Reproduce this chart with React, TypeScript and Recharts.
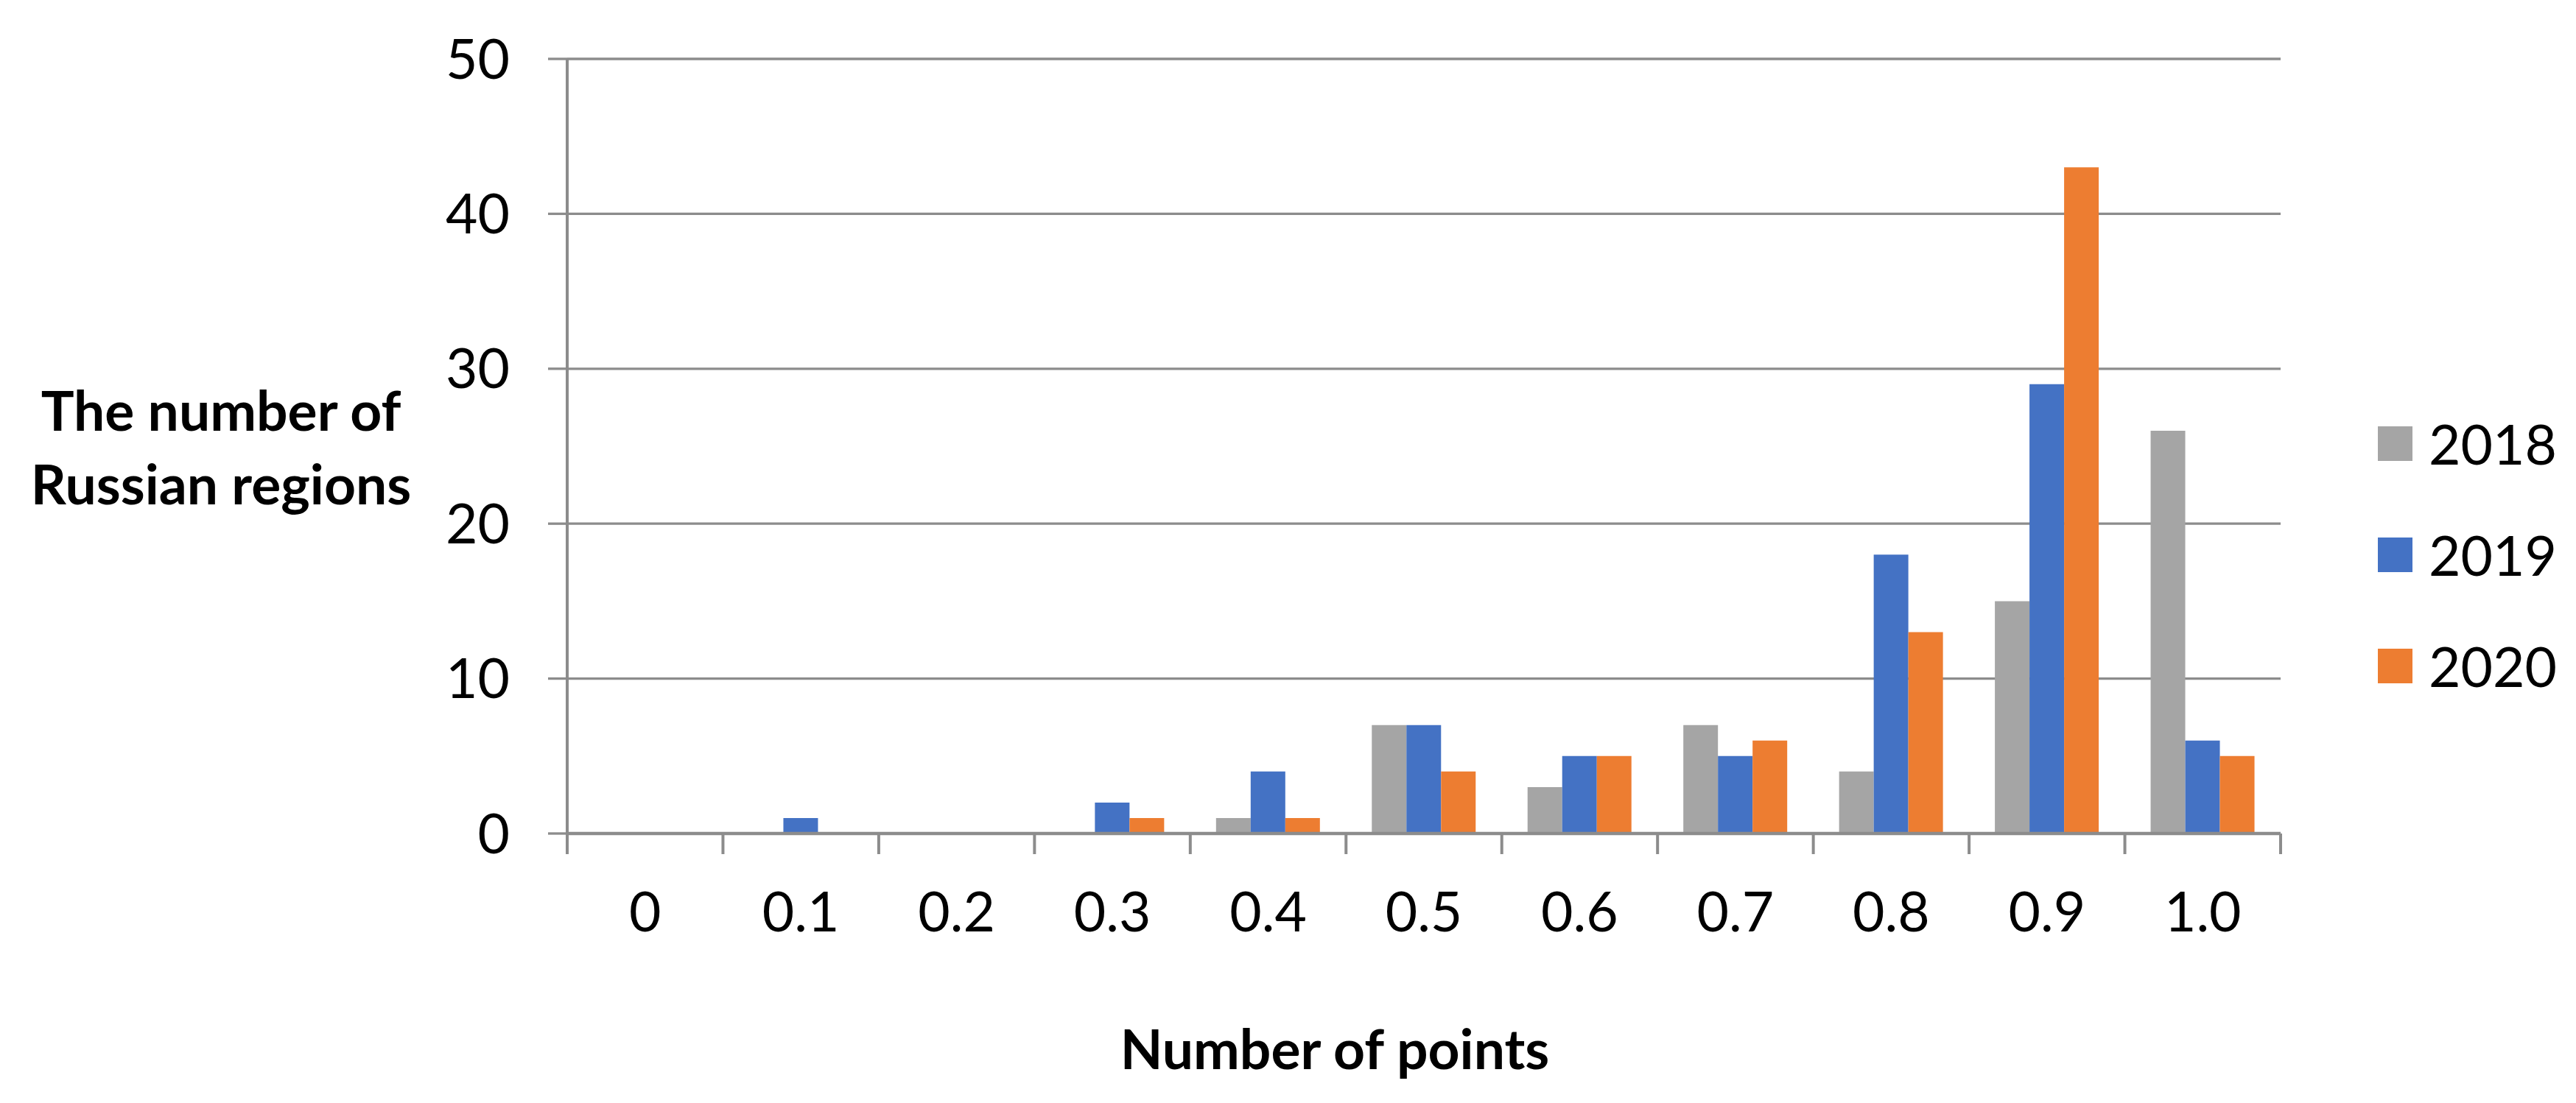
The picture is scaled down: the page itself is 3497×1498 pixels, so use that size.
import React from 'react';
import { BarChart, Bar, XAxis, YAxis, CartesianGrid, Legend } from 'recharts';

const categories = ['0', '0.1', '0.2', '0.3', '0.4', '0.5', '0.6', '0.7', '0.8', '0.9', '1.0'];
const values2018 = [0, 0, 0, 0, 1, 7, 3, 7, 4, 15, 26];
const values2019 = [0, 1, 0, 2, 4, 7, 5, 5, 18, 29, 6];
const values2020 = [0, 0, 0, 1, 1, 4, 5, 6, 13, 43, 5];
const seriesNames = ['2018', '2019', '2020'];
const seriesColors = ['#A5A5A5', '#4472C4', '#ED7D31'];
const yTicks = [0, 10, 20, 30, 40, 50];
const yTitleLines = ['The number of', 'Russian regions'];
const xTitle = 'Number of points';

const data = categories.map((c, i) => ({
  cat: c,
  '2018': values2018[i],
  '2019': values2019[i],
  '2020': values2020[i],
}));

const FONT = 'Lato, "Open Sans", sans-serif';
const GRID = '#8c8c8c';
const W = 3497;
const H = 1498;

const XTick = (props: any) => {
  const { x, y, payload, index } = props;
  const half = payload && payload.offset ? payload.offset : 211.45 / 2;
  const last = index === categories.length - 1;
  return (
    <g>
      <line x1={x - half} y1={y} x2={x - half} y2={y + 28} stroke={GRID} strokeWidth={4} />
      {last && <line x1={x + half} y1={y} x2={x + half} y2={y + 28} stroke={GRID} strokeWidth={4} />}
      <text x={x} y={y + 133} textAnchor="middle" fontFamily={FONT} fontSize={75} fill="#000">
        {payload.value}
      </text>
    </g>
  );
};

const YTitle = (props: any) => {
  const vb = props.viewBox || { x: 0, y: 80, width: 770, height: 1052 };
  const cx = vb.x + 300;
  const mid = vb.y + vb.height / 2;
  return (
    <text textAnchor="middle" fontFamily={FONT} fontWeight={700} fontSize={75} fill="#000">
      <tspan x={cx} y={mid - 21}>{yTitleLines[0]}</tspan>
      <tspan x={cx} y={mid + 79}>{yTitleLines[1]}</tspan>
    </text>
  );
};

const XTitle = (props: any) => {
  const vb = props.viewBox || { x: 770, y: 1132, width: 2326, height: 366 };
  return (
    <text x={vb.x + 1042} y={vb.y + 320} textAnchor="middle" fontFamily={FONT} fontWeight={700} fontSize={75} fill="#000">
      {xTitle}
    </text>
  );
};

const LegendContent = () => (
  <div style={{ width: 300, height: 453, paddingTop: 9, boxSizing: 'content-box' }}>
    {seriesNames.map((n, i) => (
      <div key={n} style={{ height: 151, display: 'flex', alignItems: 'center', paddingLeft: 132 }}>
        <div style={{ width: 47, height: 47, background: seriesColors[i], flex: 'none' }} />
        <span style={{ marginLeft: 22, fontFamily: FONT, fontSize: 75, lineHeight: '75px', color: '#000' }}>{n}</span>
      </div>
    ))}
  </div>
);

export default function App() {
  return (
    <div style={{ position: 'absolute', left: 0, top: 0, width: W, height: H, background: '#fff' }}>
      <BarChart
        width={W}
        height={H}
        data={data}
        margin={{ top: 80, right: 101, bottom: 0, left: 0 }}
        barGap={0}
        barSize={47}
      >
        <CartesianGrid horizontal vertical={false} stroke={GRID} strokeWidth={3.3} />
        <XAxis
          dataKey="cat"
          height={366}
          tickSize={0}
          tickMargin={0}
          tickLine={false}
          axisLine={{ stroke: GRID, strokeWidth: 4.5 }}
          tick={<XTick />}
          interval={0}
          label={<XTitle />}
        />
        <YAxis
          width={770}
          domain={[0, 50]}
          ticks={yTicks}
          interval={0}
          tickSize={26}
          tickMargin={52}
          tickLine={{ stroke: GRID, strokeWidth: 3.3 }}
          axisLine={{ stroke: GRID, strokeWidth: 4 }}
          tick={{ fontSize: 75, fontFamily: FONT, fill: '#000' }}
          label={<YTitle />}
        />
        <Legend layout="vertical" align="right" verticalAlign="middle" content={<LegendContent />} />
        {seriesNames.map((n, i) => (
          <Bar key={n} dataKey={n} fill={seriesColors[i]} isAnimationActive={false} />
        ))}
      </BarChart>
    </div>
  );
}
